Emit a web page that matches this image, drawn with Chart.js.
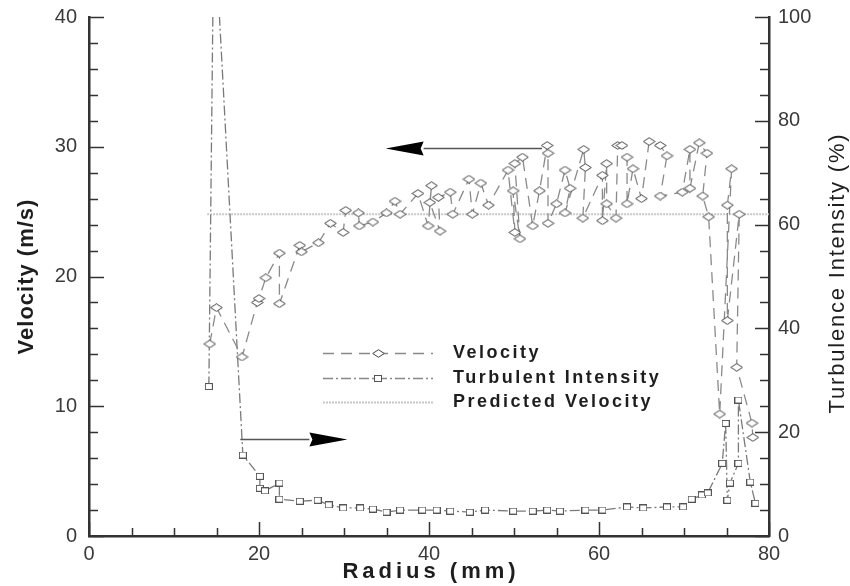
<!DOCTYPE html>
<html>
<head>
<meta charset="utf-8">
<title>Velocity and turbulence profile</title>
<script src="https://cdn.jsdelivr.net/npm/chart.js@4.4.1/dist/chart.umd.min.js"></script>
<style>
    html, body { margin: 0; padding: 0; background: #fff; }
    #wrap { width: 850px; height: 586px; }
</style>
</head>
<body>
<div id="wrap"><canvas id="profile" width="850" height="586"></canvas></div>
<script>
// Measured traverse: radius (mm) against velocity (m/s)
var velRadius = [14.2, 15.0, 18.0, 19.8, 20.0, 20.8, 22.4, 22.4, 24.8, 25.0,
    27.0, 28.4, 29.9, 30.2, 31.7, 31.8, 33.4, 35.0, 36.0, 36.6,
    38.7, 39.9, 40.3, 40.1, 41.3, 41.1, 42.5, 42.8, 44.7, 45.1,
    46.1, 47.0, 49.3, 50.1, 49.9, 50.7, 50.1, 51.0, 52.2, 53.0,
    53.9, 54.0, 54.0, 55.0, 56.0, 56.6, 56.0, 58.2, 58.4, 58.1,
    60.4, 60.4, 60.9, 60.9, 62.0, 62.2, 62.7, 63.3, 63.3, 64.0,
    65.0, 65.9, 67.2, 68.0, 67.2, 69.8, 70.7, 70.7, 71.8, 72.7,
    72.2, 72.9, 74.2, 75.6, 75.1, 75.1, 76.5, 76.2, 78.0, 78.1];
var velValues = [14.8, 17.6, 13.8, 18.0, 18.3, 19.9, 21.8, 17.9, 22.4, 21.9,
    22.6, 24.1, 23.4, 25.1, 24.9, 23.9, 24.2, 24.9, 25.8, 24.8,
    26.4, 23.9, 27.0, 25.7, 23.5, 26.1, 26.5, 24.8, 27.5, 24.8,
    27.2, 25.5, 28.2, 23.4, 26.6, 22.9, 28.7, 29.2, 23.9, 26.6,
    30.1, 29.5, 24.1, 25.6, 28.2, 26.8, 24.9, 29.8, 28.4, 24.5,
    27.8, 24.3, 28.7, 25.6, 24.5, 30.1, 30.1, 29.2, 25.6, 28.3,
    26.0, 30.4, 30.1, 29.3, 26.2, 26.5, 29.8, 26.8, 30.3, 29.5,
    26.2, 24.6, 9.4, 28.3, 25.5, 16.6, 24.8, 13.0, 8.7, 7.6];

// Turbulence intensity (%) along the same traverse
var tiRadius = [14.1, 14.7, 18.1, 20.1, 20.1, 20.7, 22.4, 22.4, 24.8, 26.9,
    28.2, 29.9, 31.9, 33.4, 35.0, 36.6, 39.2, 40.9, 42.5, 44.8,
    46.6, 49.9, 52.2, 53.9, 55.4, 58.4, 60.4, 63.3, 65.2, 68.0,
    69.9, 70.9, 72.1, 72.8, 74.5, 74.9, 75.1, 75.4, 76.4, 76.4,
    77.8, 78.4];
var tiValues = [28.8, 120, 15.6, 11.5, 9.2, 8.7, 10.2, 7.1, 6.7, 6.9,
    6.0, 5.4, 5.4, 5.2, 4.6, 5.0, 5.0, 5.0, 4.8, 4.6,
    5.0, 4.8, 4.8, 5.0, 4.8, 5.0, 5.0, 5.6, 5.4, 5.6,
    5.6, 7.1, 7.9, 8.3, 14.0, 21.7, 6.9, 10.2, 14.0, 26.2,
    10.4, 6.3];

// Predicted core velocity
var predRadius = [13.9, 80];
var predValues = [24.8, 24.8];

var radiusTicks = [0, 20, 40, 60, 80];
var velocityTicks = [0, 10, 20, 30, 40];
var intensityTicks = [0, 20, 40, 60, 80, 100];

var seriesNames = ['Velocity', 'Turbulent Intensity', 'Predicted Velocity'];
var axisTitles = { x: 'Radius (mm)', y: 'Velocity (m/s)', y1: 'Turbulence Intensity (%)' };

// Arrows tying each curve to its axis, in data units (radius, velocity)
var arrowFrom = [[53.3, 29.9], [17.8, 7.5]];
var arrowTo = [[34.9, 29.9], [30.4, 7.5]];

function pairs(xs, ys) {
    return xs.map(function(x, i) {
        return {x: x, y: ys[i]};
    });
}

function diamondMarker() {
    var c = document.createElement('canvas');
    c.width = 13;
    c.height = 9;
    var g = c.getContext('2d');
    g.beginPath();
    g.moveTo(0.7, 4.5);
    g.lineTo(6.5, 0.7);
    g.lineTo(12.3, 4.5);
    g.lineTo(6.5, 8.3);
    g.closePath();
    g.fillStyle = '#fff';
    g.fill();
    g.strokeStyle = '#444';
    g.lineWidth = 1;
    g.stroke();
    return c;
}

function squareMarker() {
    var c = document.createElement('canvas');
    c.width = 8;
    c.height = 7;
    var g = c.getContext('2d');
    g.fillStyle = '#fff';
    g.fillRect(0.5, 0.5, 7, 6);
    g.strokeStyle = '#555';
    g.lineWidth = 1;
    g.strokeRect(0.5, 0.5, 7, 6);
    return c;
}

var diamond = diamondMarker();
var square = squareMarker();

var velDash = [11, 7];
var tiDash = [10, 3, 2, 3];
var predDash = [2, 1];

var tickFont = {family: '"Liberation Sans", Arial, sans-serif', size: 20};
var tickColor = '#3a3a3a';

// Inward tick marks, major and minor, drawn along each axis line
var innerTicks = {
    id: 'innerTicks',
    afterDatasetsDraw: function(chart) {
        var ctx = chart.ctx;
        var area = chart.chartArea;
        var sx = chart.scales.x, sy = chart.scales.y, sr = chart.scales.y1;
        var v, p, len;
        ctx.save();
        ctx.strokeStyle = '#333';
        ctx.beginPath();
        for (v = sx.min; v <= sx.max; v += 5) {
            p = Math.round(sx.getPixelForValue(v)) + 0.5;
            len = v % 20 === 0 ? 14 : 8;
            ctx.moveTo(p, area.bottom);
            ctx.lineTo(p, area.bottom - len);
        }
        for (v = sy.min; v <= sy.max; v += 2) {
            p = Math.round(sy.getPixelForValue(v)) + 0.5;
            len = v % 10 === 0 ? 15 : 9;
            ctx.moveTo(area.left, p);
            ctx.lineTo(area.left + len, p);
        }
        for (v = sr.min; v <= sr.max; v += 5) {
            p = Math.round(sr.getPixelForValue(v)) + 0.5;
            len = v % 20 === 0 ? 14 : 9;
            ctx.moveTo(area.right, p);
            ctx.lineTo(area.right - len, p);
        }
        ctx.lineWidth = 1.5;
        ctx.stroke();
        ctx.restore();
    }
};

// Arrows, in-plot legend and axis titles
var decorations = {
    id: 'decorations',
    afterDraw: function(chart) {
        var ctx = chart.ctx;
        var area = chart.chartArea;
        var sx = chart.scales.x, sy = chart.scales.y;
        ctx.save();

        arrowFrom.forEach(function(from, i) {
            var x0 = sx.getPixelForValue(from[0]);
            var x1 = sx.getPixelForValue(arrowTo[i][0]);
            var y = Math.round(sy.getPixelForValue(from[1])) + 0.5;
            var dir = x1 > x0 ? 1 : -1;
            var head = 38;
            ctx.strokeStyle = '#555';
            ctx.lineWidth = 1.3;
            ctx.setLineDash([]);
            ctx.beginPath();
            ctx.moveTo(x0, y);
            ctx.lineTo(x1 - dir * head, y);
            ctx.stroke();
            ctx.fillStyle = '#000';
            ctx.beginPath();
            ctx.moveTo(x1, y);
            ctx.lineTo(x1 - dir * head, y - 7);
            ctx.lineTo(x1 - dir * (head - 3), y);
            ctx.lineTo(x1 - dir * head, y + 7);
            ctx.closePath();
            ctx.fill();
        });

        // legend
        var rows = [353, 378, 402];
        var lx0 = 323, lx1 = 433, tx = 453;
        var styles = [
            {dash: velDash, color: '#888', width: 1.5, marker: diamond},
            {dash: tiDash, color: '#888', width: 1.5, marker: square},
            {dash: predDash, color: '#c8c8c8', width: 2, marker: null}
        ];
        styles.forEach(function(s, i) {
            var y = rows[i] + 0.5;
            ctx.strokeStyle = s.color;
            ctx.lineWidth = s.width;
            ctx.setLineDash(s.dash);
            ctx.beginPath();
            ctx.moveTo(lx0, y);
            ctx.lineTo(lx1, y);
            ctx.stroke();
            if (s.marker) {
                ctx.drawImage(s.marker, Math.round((lx0 + lx1) / 2 - s.marker.width / 2),
                    Math.round(y - s.marker.height / 2));
            }
            ctx.setLineDash([]);
            ctx.fillStyle = '#1e1e1e';
            ctx.font = 'bold 18px "Liberation Sans", Arial, sans-serif';
            ctx.letterSpacing = '2.5px';
            ctx.textAlign = 'left';
            ctx.textBaseline = 'middle';
            ctx.fillText(seriesNames[i], tx, y);
        });

        // axis titles
        ctx.fillStyle = '#1e1e1e';
        ctx.textAlign = 'center';
        ctx.textBaseline = 'middle';

        ctx.font = 'bold 22px "Liberation Sans", Arial, sans-serif';
        ctx.letterSpacing = '4px';
        ctx.fillText(axisTitles.x, (area.left + area.right) / 2 + 2, 572);

        ctx.save();
        ctx.translate(27, (area.top + area.bottom) / 2);
        ctx.rotate(-Math.PI / 2);
        ctx.letterSpacing = '1px';
        ctx.fillText(axisTitles.y, 0, 0);
        ctx.restore();

        ctx.save();
        ctx.translate(838, 273);
        ctx.rotate(-Math.PI / 2);
        ctx.font = '22px "Liberation Sans", Arial, sans-serif';
        ctx.letterSpacing = '1.8px';
        ctx.fillText(axisTitles.y1, 0, 0);
        ctx.restore();

        ctx.restore();
    }
};

function fixedTicks(values) {
    return function(scale) {
        scale.ticks = values.map(function(v) {
            return {value: v};
        });
    };
}

// Pin the axis boxes so the plot area sits at a fixed place
function fixedBox(width, height) {
    return function(scale) {
        if (width) {
            scale.width = width;
        }
        if (height) {
            scale.height = height;
        }
        scale.paddingTop = 0;
        scale.paddingBottom = 0;
        scale.paddingLeft = 0;
        scale.paddingRight = 0;
    };
}

var canvas = document.getElementById('profile');

new Chart(canvas.getContext('2d'), {
    type: 'line',
    data: {
        datasets: [
            {
                label: seriesNames[0],
                data: pairs(velRadius, velValues),
                yAxisID: 'y',
                borderColor: '#8a8a8a',
                borderWidth: 1.3,
                borderDash: velDash,
                pointStyle: diamond,
                pointRadius: 5,
                order: 1,
                clip: 0
            },
            {
                label: seriesNames[1],
                data: pairs(tiRadius, tiValues),
                yAxisID: 'y1',
                borderColor: '#7a7a7a',
                borderWidth: 1.3,
                borderDash: tiDash,
                pointStyle: square,
                pointRadius: 4,
                order: 2,
                clip: 0
            },
            {
                label: seriesNames[2],
                data: pairs(predRadius, predValues),
                yAxisID: 'y',
                borderColor: '#c8c8c8',
                borderWidth: 2,
                borderDash: predDash,
                pointRadius: 0,
                order: 3,
                clip: 0
            }
        ]
    },
    options: {
        responsive: false,
        animation: false,
        devicePixelRatio: 1,
        layout: {
            padding: {top: 17, left: 0, right: 0, bottom: 0}
        },
        elements: {
            line: {tension: 0, fill: false}
        },
        plugins: {
            legend: {display: false},
            tooltip: {enabled: false}
        },
        scales: {
            x: {
                type: 'linear',
                position: 'bottom',
                min: 0,
                max: 80,
                afterBuildTicks: fixedTicks(radiusTicks),
                afterFit: fixedBox(0, 50),
                grid: {drawOnChartArea: false, drawTicks: false},
                border: {display: true, width: 2.5, color: '#333'},
                ticks: {padding: 6, font: tickFont, color: tickColor, maxRotation: 0}
            },
            y: {
                type: 'linear',
                position: 'left',
                min: 0,
                max: 40,
                afterBuildTicks: fixedTicks(velocityTicks),
                afterFit: fixedBox(89, 0),
                grid: {drawOnChartArea: false, drawTicks: false},
                border: {display: true, width: 2.5, color: '#333'},
                ticks: {padding: 12, font: tickFont, color: tickColor}
            },
            y1: {
                type: 'linear',
                position: 'right',
                min: 0,
                max: 100,
                afterBuildTicks: fixedTicks(intensityTicks),
                afterFit: fixedBox(81, 0),
                grid: {drawOnChartArea: false, drawTicks: false},
                border: {display: true, width: 2.5, color: '#333'},
                ticks: {padding: 9, font: tickFont, color: tickColor}
            }
        }
    },
    plugins: [innerTicks, decorations]
});
</script>
</body>
</html>
